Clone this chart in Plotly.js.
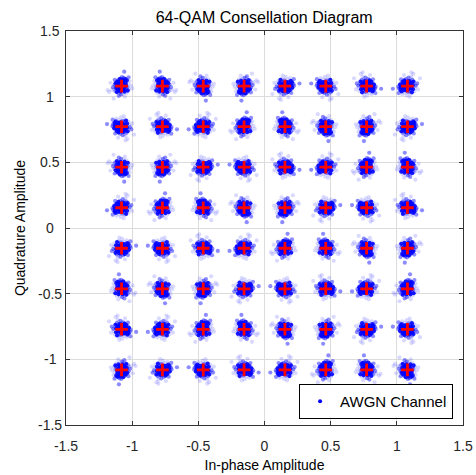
<!DOCTYPE html>
<html>
<head>
<meta charset="utf-8">
<script src="https://cdn.plot.ly/plotly-3.0.1.min.js"></script>
<style>
  html, body { margin: 0; padding: 0; background: #fff; }
  #chart { width: 476px; height: 475px; }
</style>
</head>
<body>
<div id="chart"></div>
<script>
// 64-QAM amplitude levels on each axis (normalized by sqrt(42))
const levels = [-1.0801, -0.7715, -0.4629, -0.1543, 0.1543, 0.4629, 0.7715, 1.0801];

// Received-sample deviations around a constellation point, in hundredths
const noiseI = [0.9,-1.9,2.6,-3.1,0.5,3.9,-1.4,2.2,-4.5,3.2,-2.3,0.2,5.3,-4.0,1.7,-0.7,4.7,-5.6,1.2,-2.0,2.9,-3.5,0.0,4.4,-1.0,6.5,-2.9,1.9,-5.1,3.5,-0.3,1.4,-7.1,2.3,-1.6,5.2,-3.8,0.6,7.3,-1.1,2.1,-6.1,3.1,-2.6,0.8,-8.1,4.1,-0.5,2.7,-3.3,8.4,-1.7,0.4,-4.7,5.7,-0.8,9.4,-5.3,1.5,-2.5,10.5,-2.0,6.0];
const noiseQ = [0.6,1.4,-2.0,-2.5,3.3,1.6,-3.8,2.7,0.7,-3.6,4.2,-1.7,-1.1,-4.4,5.1,0.3,3.7,2.4,-5.6,-0.9,0.2,2.0,-3.1,-2.3,5.9,0.8,-5.3,-0.7,-1.8,4.6,-6.9,2.0,-0.5,-4.7,2.9,-4.8,5.2,-1.3,2.9,-2.7,7.4,-3.9,-1.5,0.5,4.1,1.7,0.4,1.7,3.2,-0.8,-2.6,-6.4,6.3,3.4,2.2,-5.0,4.5,-6.7,-3.2,8.0,3.0,-11.0,9.5];
// Per-sample marker opacity
const noiseA = [0.9,0.9,0.9,0.9,0.45,0.9,0.9,0.9,0.45,0.9,0.9,0.9,0.45,0.9,0.15,0.9,0.45,0.15,0.9,0.9,0.9,0.45,0.9,0.9,0.15,0.45,0.9,0.9,0.15,0.9,0.45,0.9,0.15,0.45,0.9,0.45,0.15,0.9,0.15,0.9,0.45,0.15,0.9,0.9,0.9,0.15,0.45,0.9,0.45,0.9,0.15,0.45,0.45,0.9,0.15,0.9,0.15,0.45,0.9,0.15,0.15,0.45,0.15];

// Orientation of the deviation pattern for each point: [signI, signQ, swap]
const orient = [[1,1,0],[-1,1,1],[1,-1,0],[-1,-1,1],[1,1,1],[-1,1,0],[1,-1,1],[-1,-1,0]];

const xTicks = [-1.5, -1, -0.5, 0, 0.5, 1, 1.5];
const xTickText = ['-1.5', '-1', '-0.5', '0', '0.5', '1', '1.5'];
const yTicks = [-1.5, -1, -0.5, 0, 0.5, 1, 1.5];
const yTickText = ['-1.5', '-1', '-0.5', '0', '0.5', '1', '1.5'];

const rxI = [], rxQ = [], rxA = [], refI = [], refQ = [];
const n = Math.min(noiseI.length, noiseQ.length, noiseA.length);
let k = 0;
for (const q of levels) {
  for (const i of levels) {
    refI.push(i); refQ.push(q);
    const o = orient[(k * 3 + Math.floor(k / 8)) % 8];
    for (let m = 0; m < n; m++) {
      let a = noiseI[m], b = noiseQ[m];
      if (o[2]) { const t = a; a = b; b = t; }
      rxI.push(i + o[0] * a / 100);
      rxQ.push(q + o[1] * b / 100);
      rxA.push(noiseA[m]);
    }
    k++;
  }
}

const FONT = 'Liberation Sans, Arial, sans-serif';

const traces = [
  {
    type: 'scatter', mode: 'markers', name: 'AWGN Channel', showlegend: false,
    x: rxI, y: rxQ,
    marker: { color: 'rgb(0,0,255)', size: 4.2, opacity: rxA, line: { width: 0 } },
    hoverinfo: 'skip'
  },
  {
    type: 'scatter', mode: 'markers', name: 'Reference', showlegend: false,
    x: refI, y: refQ,
    marker: { symbol: 'cross-thin', size: 9, color: 'red', line: { color: 'rgb(255,0,0)', width: 2.8 } },
    hoverinfo: 'skip'
  },
  // legend entry for the received samples
  {
    type: 'scatter', mode: 'markers', name: 'AWGN Channel',
    x: [null], y: [null],
    marker: { color: 'rgb(0,0,255)', size: 4 },
    hoverinfo: 'skip'
  }
];

const axisCommon = {
  range: [-1.5, 1.5],
  showgrid: true, gridcolor: '#dcdcdc', gridwidth: 1,
  zeroline: false,
  showline: true, linecolor: '#333', linewidth: 1, mirror: 'allticks',
  ticks: 'inside', ticklen: 4, tickcolor: '#333',
  tickfont: { family: FONT, size: 14, color: '#262626' }
};

// y tick labels centred on a common column
const annotations = yTicks.map((v, idx) => ({
  xref: 'paper', yref: 'y', x: -0.04, y: v,
  xanchor: 'center', yanchor: 'middle', showarrow: false,
  text: yTickText[idx],
  font: { family: FONT, size: 14, color: '#262626' }
}));

const layout = {
  width: 476, height: 475,
  margin: { l: 66, r: 13, t: 31, b: 50 },
  paper_bgcolor: '#fff', plot_bgcolor: '#fff',
  font: { family: FONT, color: '#262626' },
  title: { text: '64-QAM Consellation Diagram', font: { family: FONT, size: 16, color: '#000' }, x: 0.555, xanchor: 'center', y: 0.964, yanchor: 'middle' },
  xaxis: Object.assign({}, axisCommon, {
    tickvals: xTicks,
    ticktext: xTickText,
    ticklabelstandoff: 8,
    title: { text: 'In-phase Amplitude', font: { family: FONT, size: 14, color: '#000' }, standoff: 7 }
  }),
  yaxis: Object.assign({}, axisCommon, {
    tickvals: yTicks,
    showticklabels: false,
    title: { text: 'Quadrature Amplitude', font: { family: FONT, size: 14, color: '#000' }, standoff: 36 }
  }),
  annotations: annotations,
  legend: {
    x: 0.975, y: 0.015, xanchor: 'right', yanchor: 'bottom',
    bgcolor: '#fff', bordercolor: '#000', borderwidth: 1,
    font: { family: FONT, size: 15, color: '#000' },
    itemwidth: 30
  },
  showlegend: true
};

Plotly.newPlot('chart', traces, layout, { staticPlot: true, displayModeBar: false });
</script>
</body>
</html>
